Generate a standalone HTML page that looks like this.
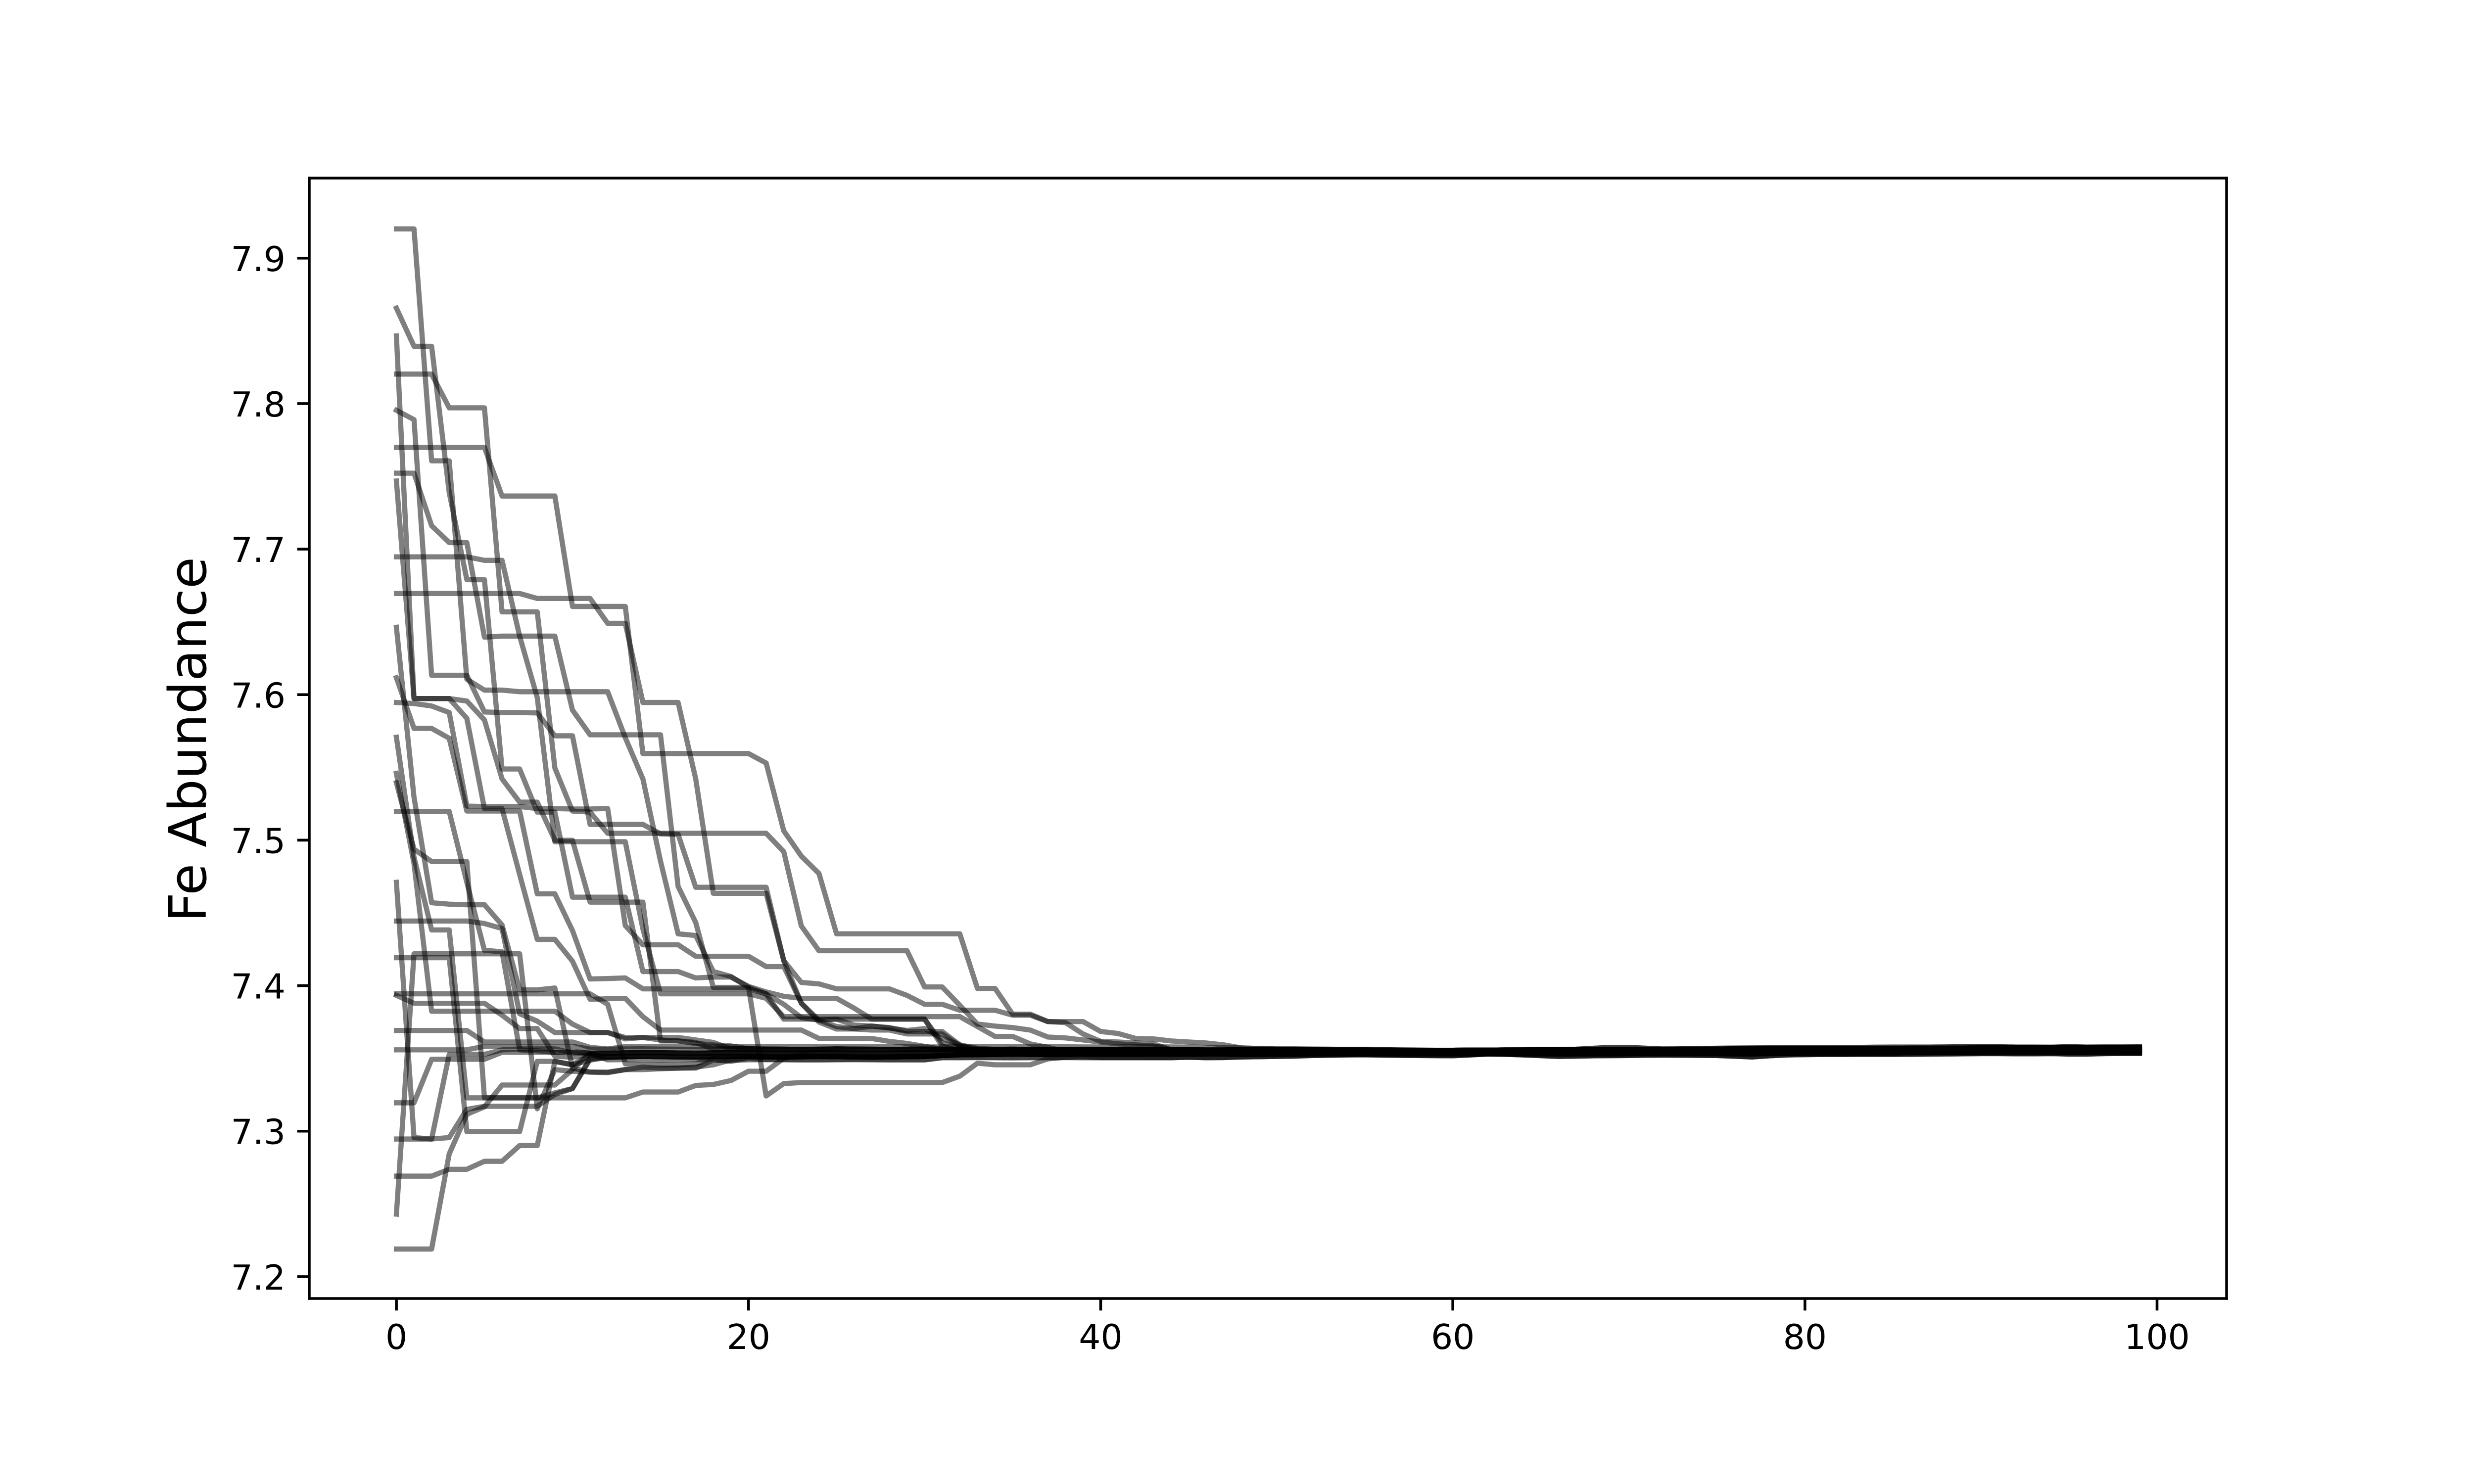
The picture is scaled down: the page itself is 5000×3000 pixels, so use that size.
<!DOCTYPE html>
<html>
<head>
<meta charset="utf-8">
<title>Fe Abundance</title>
<style>
html,body{margin:0;padding:0;background:#fff}
svg{display:block}
text{font-family:"DejaVu Sans","Liberation Sans",sans-serif;fill:#000}
</style>
</head>
<body>
<svg id="chart" xmlns="http://www.w3.org/2000/svg" width="5000" height="3000" viewBox="0 0 5000 3000">
<rect x="0" y="0" width="5000" height="3000" fill="#fff"/>
<g id="runs"></g>
<g id="axes"></g>
<text x="0" y="0" font-size="104.2" text-anchor="middle" transform="translate(416,1495) rotate(-90)">Fe Abundance</text>
</svg>
<script>
const xTicks = [0, 20, 40, 60, 80, 100];
const yTicks = [7.2, 7.3, 7.4, 7.5, 7.6, 7.7, 7.8, 7.9];
const yTickLabels = ["7.2", "7.3", "7.4", "7.5", "7.6", "7.7", "7.8", "7.9"];
const iterationCount = 100;
const settledStart = 10;

const seriesA = [7.9201,7.9201,7.7607,7.7607,7.6106,7.6031,7.6031,7.6020,7.6020,7.6020,7.6020,7.6020,7.6020,7.5704,7.5421,7.4856,7.4356,7.4345,7.4097,7.4063,7.3988,7.3242,7.3327,7.3334,7.3334,7.3334,7.3334,7.3334,7.3334,7.3334,7.3334,7.3334,7.3378,7.3467,7.3456,7.3456,7.3456,7.3497,7.3508,7.3515];
const seriesB = [7.8656,7.8394,7.8394,7.7389,7.6790,7.6790,7.5489,7.5489,7.5193,7.5193,7.4608,7.4608,7.4608,7.4608,7.4097,7.4097,7.4097,7.4053,7.4059,7.4059,7.3995,7.3957,7.3927,7.3913,7.3913,7.3913,7.3845,7.3770,7.3770,7.3770,7.3770,7.3583,7.3552];
const seriesC = [7.8465,7.5973,7.5973,7.5973,7.5837,7.5217,7.5217,7.4764,7.4318,7.4318,7.4168,7.3906,7.3910,7.3913,7.3787,7.3695,7.3695,7.3695,7.3695,7.3695,7.3695,7.3695,7.3695,7.3695,7.3637,7.3637,7.3637,7.3637,7.3617,7.3603,7.3583];
const seriesD = [7.8203,7.8203,7.8203,7.7971,7.7971,7.7971,7.6569,7.6569,7.6569,7.5496,7.5200,7.5193,7.5047,7.5047,7.5047,7.5047,7.5047,7.5047,7.5047,7.5047,7.5047,7.5047,7.4921,7.4410,7.4240,7.4240,7.4240,7.4240,7.4240,7.4240,7.3991,7.3991,7.3865,7.3736,7.3722,7.3712,7.3695,7.3647,7.3641,7.3627,7.3613,7.3600,7.3593,7.3586];
const seriesE = [7.7954,7.7890,7.6133,7.6133,7.6133,7.5881,7.5877,7.5877,7.5874,7.5717,7.5717,7.5108,7.5108,7.5108,7.5108,7.5043,7.5040,7.4676,7.4676,7.4676,7.4676,7.4676,7.4172,7.3879,7.3763,7.3770,7.3770,7.3770,7.3770,7.3770,7.3770,7.3606,7.3576];
const seriesF = [7.7699,7.7699,7.7699,7.7699,7.7699,7.7699,7.7365,7.7365,7.7365,7.7365,7.6606,7.6606,7.6606,7.6606,7.5595,7.5595,7.5595,7.5595,7.5595,7.5595,7.5595,7.5530,7.5064,7.4890,7.4771,7.4356,7.4356,7.4356,7.4356,7.4356,7.4356,7.4356,7.4356,7.3981,7.3981,7.3804,7.3804,7.3753,7.3753,7.3753,7.3685,7.3671,7.3637,7.3634,7.3620,7.3613,7.3606,7.3593];
const seriesG = [7.7522,7.7522,7.7161,7.7045,7.7045,7.6395,7.6402,7.6402,7.6402,7.6402,7.5894,7.5724,7.5724,7.5724,7.5724,7.5724,7.4682,7.4434,7.3988,7.3988,7.3988,7.3944,7.3872,7.3780,7.3763,7.3719,7.3705,7.3722,7.3709,7.3692,7.3705,7.3637,7.3593];
const seriesH = [7.7468,7.5973,7.5973,7.5973,7.5956,7.5826,7.5421,7.5261,7.5261,7.4999,7.4999,7.4574,7.4574,7.4574,7.4574,7.3620,7.3620,7.3603,7.3593,7.3586];
const seriesI = [7.6947,7.6947,7.6947,7.6947,7.6947,7.6923,7.6923,7.6402,7.5980,7.4989,7.4989,7.4989,7.4989,7.4989,7.4390,7.3944,7.3944,7.3944,7.3944,7.3944,7.3944,7.3913,7.3787,7.3787,7.3787,7.3787,7.3787,7.3787,7.3787,7.3787,7.3787,7.3787,7.3787,7.3719,7.3651,7.3651,7.3600,7.3576];
const seriesJ = [7.6695,7.6695,7.6695,7.6695,7.6695,7.6695,7.6695,7.6695,7.6661,7.6661,7.6661,7.6661,7.6490,7.6490,7.5946,7.5946,7.5946,7.5421,7.4635,7.4635,7.4635,7.4635,7.4172,7.4022,7.4012,7.3978,7.3978,7.3978,7.3978,7.3933,7.3872,7.3872,7.3831,7.3831,7.3831,7.3797,7.3797,7.3753,7.3746,7.3668,7.3617,7.3613,7.3606,7.3600];
const seriesK = [7.6463,7.5295,7.4570,7.4560,7.4556,7.4556,7.4417,7.3971,7.3971,7.3984,7.3433,7.3406,7.3406,7.3423,7.3423,7.3429,7.3433,7.3440,7.3456,7.3490,7.3508];
const seriesL = [7.6116,7.5768,7.5768,7.5700,7.5200,7.5200,7.5200,7.5200,7.4631,7.4631,7.4379,7.4046,7.4049,7.4053,7.3978,7.3978,7.3978,7.3978,7.3978,7.3978,7.3978,7.3944,7.3770,7.3770,7.3770,7.3770,7.3729,7.3722,7.3712,7.3685,7.3685,7.3685,7.3593,7.3569];
const seriesM = [7.5946,7.5939,7.5922,7.5877,7.5234,7.5231,7.5231,7.5231,7.5217,7.5217,7.5214,7.5214,7.5217,7.4413,7.4281,7.4281,7.4281,7.4202,7.4202,7.4202,7.4202,7.4131,7.4131,7.3879,7.3750,7.3702,7.3702,7.3695,7.3695,7.3668,7.3668,7.3668,7.3586,7.3565];
const seriesN = [7.5707,7.4883,7.4383,7.4383,7.3229,7.3229,7.3229,7.3229,7.3229,7.3229,7.3229,7.3229,7.3229,7.3229,7.3269,7.3269,7.3269,7.3314,7.3321,7.3348,7.3412,7.3412,7.3501,7.3525];
const seriesO = [7.5459,7.4839,7.3824,7.3824,7.3824,7.3824,7.3824,7.3824,7.3824,7.3824,7.3736,7.3678,7.3678,7.3644,7.3644,7.3627,7.3620,7.3610];
const seriesP = [7.5394,7.4938,7.4853,7.4853,7.4853,7.3229,7.3229,7.3229,7.3229,7.3263,7.3293,7.3501,7.3512];
const seriesQ = [7.5197,7.5197,7.5197,7.5197,7.4710,7.4243,7.4233,7.3559,7.3552,7.3542,7.3548];
const seriesR = [7.4710,7.2956,7.2946,7.3528,7.3528,7.3528,7.3559,7.3565,7.3565,7.3565];
const seriesS = [7.4444,7.4444,7.4444,7.4444,7.4444,7.4427,7.4393,7.3807,7.3756,7.3678,7.3678,7.3678,7.3678,7.3634,7.3644,7.3644,7.3644,7.3627,7.3610];
const seriesT = [7.4192,7.4192,7.4192,7.4192,7.2997,7.2997,7.2997,7.2997,7.3480,7.3480,7.3456,7.3525,7.3510];
const seriesU = [7.3944,7.3944,7.3944,7.3944,7.3944,7.3944,7.3944,7.3944,7.3944,7.3944,7.3944,7.3944,7.3872,7.3463,7.3456,7.3456,7.3456,7.3463,7.3500];
const seriesV = [7.3933,7.3879,7.3879,7.3879,7.3879,7.3879,7.3797,7.3705,7.3705,7.3515,7.3508,7.3525];
const seriesW = [7.3692,7.3692,7.3692,7.3692,7.3692,7.3613,7.3613,7.3613,7.3613,7.3613,7.3613,7.3576,7.3565];
const seriesX = [7.3559,7.3559,7.3559,7.3559,7.3559,7.3583,7.3583,7.3583,7.3583,7.3583,7.3583];
const seriesY = [7.3195,7.3195,7.3494,7.3494,7.3494,7.3494,7.3542,7.3542,7.3542,7.3542,7.3542];
const seriesZ = [7.2946,7.2946,7.2946,7.2956,7.3150,7.3171,7.3171,7.3171,7.3171,7.3252,7.3293,7.3494,7.3505];
const seriesAA = [7.2691,7.2691,7.2691,7.2738,7.2738,7.2793,7.2793,7.2901,7.2901,7.3480,7.3456,7.3488];
const seriesAB = [7.2430,7.4219,7.4219,7.4219,7.4219,7.4219,7.4219,7.4219,7.3154,7.3423,7.3412,7.3406,7.3402,7.3423,7.3440,7.3433,7.3433,7.3433,7.3490,7.3480,7.3500];
const seriesAC = [7.2190,7.2190,7.2190,7.2844,7.3116,7.3167,7.3317,7.3317,7.3317,7.3317,7.3423,7.3535];

const settledTop = [7.3580,7.3580,7.3580,7.3581,7.3582,7.3582,7.3581,7.3580,7.3580,7.3581,7.3582,7.3582,7.3581,7.3580,7.3580,7.3580,7.3581,7.3581,7.3580,7.3580,7.3579,7.3579,7.3580,7.3580,7.3580,7.3581,7.3581,7.3580,7.3580,7.3579,7.3579,7.3580,7.3580,7.3580,7.3579,7.3578,7.3576,7.3575,7.3572,7.3568,7.3565,7.3565,7.3564,7.3563,7.3562,7.3562,7.3560,7.3558,7.3557,7.3556,7.3555,7.3556,7.3557,7.3558,7.3559,7.3560,7.3561,7.3563,7.3570,7.3576,7.3576,7.3570,7.3565,7.3566,7.3568,7.3570,7.3571,7.3572,7.3573,7.3574,7.3575,7.3575,7.3576,7.3576,7.3577,7.3578,7.3578,7.3578,7.3579,7.3580,7.3581,7.3580,7.3578,7.3578,7.3577,7.3581,7.3578,7.3579,7.3579,7.3580];
const settledUpper = [7.3565,7.3564,7.3563,7.3565,7.3566,7.3564,7.3563,7.3562,7.3564,7.3565,7.3566,7.3564,7.3563,7.3562,7.3563,7.3565,7.3564,7.3563,7.3562,7.3563,7.3564,7.3563,7.3562,7.3561,7.3562,7.3563,7.3562,7.3561,7.3561,7.3562,7.3561,7.3560,7.3560,7.3561,7.3560,7.3559,7.3558,7.3558,7.3560,7.3560,7.3559,7.3559,7.3559,7.3558,7.3558,7.3558,7.3557,7.3557,7.3556,7.3556,7.3556,7.3557,7.3557,7.3558,7.3558,7.3559,7.3559,7.3560,7.3561,7.3561,7.3562,7.3562,7.3562,7.3563,7.3563,7.3564,7.3565,7.3565,7.3566,7.3566,7.3567,7.3567,7.3568,7.3568,7.3569,7.3569,7.3570,7.3570,7.3571,7.3571,7.3572,7.3572,7.3572,7.3573,7.3573,7.3573,7.3573,7.3574,7.3574,7.3574];
const settledMiddle = [7.3538,7.3536,7.3535,7.3538,7.3540,7.3539,7.3537,7.3536,7.3538,7.3540,7.3539,7.3537,7.3536,7.3537,7.3539,7.3538,7.3536,7.3535,7.3536,7.3538,7.3539,7.3548,7.3547,7.3546,7.3547,7.3548,7.3547,7.3546,7.3547,7.3548,7.3547,7.3546,7.3546,7.3547,7.3547,7.3546,7.3546,7.3546,7.3546,7.3546,7.3546,7.3546,7.3546,7.3546,7.3545,7.3545,7.3545,7.3545,7.3545,7.3545,7.3545,7.3545,7.3546,7.3546,7.3546,7.3546,7.3547,7.3547,7.3548,7.3548,7.3548,7.3549,7.3549,7.3549,7.3550,7.3550,7.3551,7.3551,7.3552,7.3552,7.3552,7.3553,7.3553,7.3553,7.3554,7.3554,7.3555,7.3555,7.3555,7.3556,7.3556,7.3556,7.3557,7.3557,7.3557,7.3557,7.3557,7.3558,7.3558,7.3558];
const settledLower = [7.3512,7.3510,7.3508,7.3511,7.3514,7.3512,7.3510,7.3509,7.3512,7.3514,7.3513,7.3510,7.3509,7.3511,7.3513,7.3512,7.3510,7.3509,7.3510,7.3512,7.3513,7.3520,7.3525,7.3526,7.3527,7.3529,7.3528,7.3527,7.3528,7.3529,7.3528,7.3528,7.3528,7.3529,7.3529,7.3529,7.3530,7.3530,7.3528,7.3528,7.3529,7.3529,7.3530,7.3530,7.3531,7.3531,7.3531,7.3531,7.3531,7.3531,7.3530,7.3531,7.3532,7.3532,7.3531,7.3531,7.3531,7.3531,7.3531,7.3531,7.3532,7.3532,7.3532,7.3532,7.3532,7.3532,7.3531,7.3531,7.3533,7.3534,7.3535,7.3535,7.3536,7.3536,7.3536,7.3537,7.3540,7.3540,7.3541,7.3541,7.3542,7.3542,7.3542,7.3542,7.3542,7.3541,7.3542,7.3543,7.3543,7.3543];
const settledBottom = [7.3490,7.3490,7.3490,7.3492,7.3490,7.3488,7.3490,7.3492,7.3490,7.3488,7.3490,7.3492,7.3491,7.3490,7.3490,7.3491,7.3492,7.3491,7.3490,7.3490,7.3490,7.3505,7.3505,7.3506,7.3505,7.3504,7.3505,7.3505,7.3506,7.3505,7.3505,7.3505,7.3505,7.3505,7.3505,7.3508,7.3505,7.3506,7.3510,7.3512,7.3514,7.3516,7.3520,7.3522,7.3524,7.3525,7.3523,7.3521,7.3520,7.3519,7.3518,7.3524,7.3530,7.3528,7.3524,7.3519,7.3514,7.3516,7.3518,7.3519,7.3520,7.3522,7.3523,7.3522,7.3521,7.3520,7.3515,7.3510,7.3518,7.3524,7.3526,7.3527,7.3527,7.3528,7.3528,7.3528,7.3529,7.3530,7.3531,7.3532,7.3533,7.3533,7.3532,7.3532,7.3533,7.3530,7.3530,7.3533,7.3534,7.3534];

const allSeries = [seriesA,seriesB,seriesC,seriesD,seriesE,seriesF,seriesG,seriesH,seriesI,seriesJ,seriesK,seriesL,seriesM,seriesN,seriesO,seriesP,seriesQ,seriesR,seriesS,seriesT,seriesU,seriesV,seriesW,seriesX,seriesY,seriesZ,seriesAA,seriesAB,seriesAC];
const settledTracks = [settledTop,settledUpper,settledMiddle,settledLower,settledBottom];
const settledTrackOfSeries = [4,2,1,1,2,0,2,1,2,1,3,1,2,3,1,3,2,2,1,3,3,2,0,1,2,3,3,4,4];

const plotLeft = 625, plotRight = 4500, plotTop = 360, plotBottom = 2625;
const xMin = -4.95, xMax = 103.95, yMin = 7.185, yMax = 7.955;
function xScale(t) { return plotLeft + (t - xMin) / (xMax - xMin) * (plotRight - plotLeft); }
function yScale(v) { return plotTop + (yMax - v) / (yMax - yMin) * (plotBottom - plotTop); }

const NS = 'http://www.w3.org/2000/svg';
const runsGroup = document.getElementById('runs');
const axesGroup = document.getElementById('axes');

allSeries.forEach(function (values, i) {
  const track = settledTracks[settledTrackOfSeries[i]];
  const pts = [];
  for (let t = 0; t < iterationCount; t++) {
    const v = t < values.length ? values[t] : track[t - settledStart];
    pts.push(xScale(t).toFixed(2) + ',' + yScale(v).toFixed(2));
  }
  const el = document.createElementNS(NS, 'polyline');
  
  
  el.setAttribute('points', pts.join(' '));
  el.setAttribute('fill', 'none');
  el.setAttribute('stroke', '#000');
  el.setAttribute('stroke-opacity', '0.5');
  el.setAttribute('stroke-width', '10.42');
  el.setAttribute('stroke-linecap', 'square');
  el.setAttribute('stroke-linejoin', 'round');
  runsGroup.appendChild(el);
});

function axisLine(x1, y1, x2, y2, name) {
  const el = document.createElementNS(NS, 'line');
  
  
  el.setAttribute('x1', x1);
  el.setAttribute('y1', y1);
  el.setAttribute('x2', x2);
  el.setAttribute('y2', y2);
  el.setAttribute('stroke', '#000');
  el.setAttribute('stroke-width', '5.56');
  axesGroup.appendChild(el);
  return el;
}

xTicks.forEach(function (tick) {
  axisLine(xScale(tick), plotBottom, xScale(tick), plotBottom + 24.3, 'x-tick-' + tick);
  const label = document.createElementNS(NS, 'text');
  
  
  label.setAttribute('x', xScale(tick));
  label.setAttribute('y', plotBottom + 102);
  label.setAttribute('font-size', '69.44');
  label.setAttribute('text-anchor', 'middle');
  label.textContent = String(tick);
  axesGroup.appendChild(label);
});

yTicks.forEach(function (tick, i) {
  axisLine(plotLeft, yScale(tick), plotLeft - 24.3, yScale(tick), 'y-tick-' + yTickLabels[i]);
  const label = document.createElementNS(NS, 'text');
  
  
  label.setAttribute('x', plotLeft - 48);
  label.setAttribute('y', yScale(tick) + 26);
  label.setAttribute('font-size', '69.44');
  label.setAttribute('text-anchor', 'end');
  label.textContent = yTickLabels[i];
  axesGroup.appendChild(label);
});

axisLine(plotLeft, plotTop - 2.78, plotLeft, plotBottom + 2.78, 'left-spine');
axisLine(plotRight, plotTop - 2.78, plotRight, plotBottom + 2.78, 'right-spine');
axisLine(plotLeft - 2.78, plotTop, plotRight + 2.78, plotTop, 'top-spine');
axisLine(plotLeft - 2.78, plotBottom, plotRight + 2.78, plotBottom, 'bottom-spine');
</script>
</body>
</html>
